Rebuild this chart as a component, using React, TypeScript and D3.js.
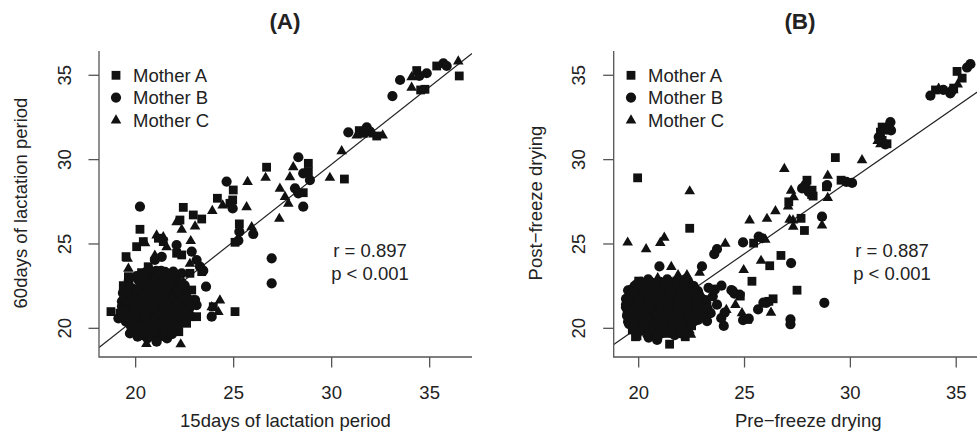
import * as d3 from "d3";

const W = 977;
const H = 432;

// ---- Panel A: 15 days vs 60 days of lactation period ----
const lactMotherA: [number, number][] = [
  [36.51, 34.96], [35.36, 35.55], [34.76, 34.17], [34.54, 34.13], [34.34, 35.28],
  [31.41, 31.72], [31.62, 31.56], [32.3, 31.4], [30.65, 28.85], [28.81, 29.78],
  [28.81, 29.29], [28.55, 28.04], [26.68, 29.55], [24.98, 28.2], [24.95, 27.61],
  [24.17, 27.71], [24.81, 27.41], [23.37, 26.48], [22.94, 26.72], [22.43, 27.17],
  [22.26, 26.42], [25.29, 26.19], [25.07, 25.1], [20.22, 25.87], [20.05, 24.84],
  [20.39, 25.14], [19.51, 24.25], [19.63, 23.06], [19.37, 22.53], [18.74, 20.99],
  [21.16, 25.34], [21.41, 25.14], [22.35, 24.35], [23.37, 23.36], [22.77, 23.26],
  [23.96, 21.28], [25.07, 20.99], [22.6, 21.68], [22.77, 21.48], [22.77, 20.69],
  [22.6, 20.3], [22.09, 24.45], [20.64, 23.65], [22.86, 22.27], [23.11, 20.69],
  [20.3, 23.3], [21.4, 22.8], [20.6, 22.4], [22.1, 22.4], [19.4, 21.8],
  [20.9, 21.9], [22.8, 21.7], [19.8, 21.4], [21.3, 21.4], [19.2, 20.9],
  [20.2, 21.0], [22.2, 20.9], [20.5, 20.5], [22.0, 20.3], [20.4, 19.9],
  [22.2, 19.8], [21.1, 19.5], [20.55, 23.15], [22.0, 23.1], [21.25, 22.65],
  [20.15, 22.15], [21.65, 22.1], [20.55, 21.7], [22.55, 21.55], [20.45, 21.2],
  [21.45, 21.15], [19.45, 20.65], [22.4, 20.6], [20.75, 20.2], [21.75, 20.1],
  [20.85, 19.6],
];
const lactMotherB: [number, number][] = [
  [35.7, 35.71], [35.87, 35.55], [34.85, 35.12], [34.47, 34.96], [33.49, 34.72],
  [33.1, 33.77], [30.85, 31.62], [31.79, 31.92], [31.96, 31.66], [28.3, 30.14],
  [28.55, 29.19], [28.89, 28.79], [28.13, 28.3], [28.3, 28.0], [28.55, 27.21],
  [26.94, 24.15], [26.94, 22.67], [24.64, 28.7], [24.95, 27.11], [25.29, 25.73],
  [26.0, 25.59], [25.24, 25.2], [20.22, 27.21], [19.12, 20.59], [22.09, 24.94],
  [22.86, 24.55], [23.11, 24.05], [23.28, 23.66], [23.45, 23.42], [22.35, 23.26],
  [21.92, 23.36], [23.59, 22.47], [23.88, 20.69], [20.98, 24.05], [21.33, 24.24],
  [23.11, 21.38], [23.03, 21.68], [19.71, 19.7], [21.07, 19.21],
  [21.3, 23.4], [21.7, 23.2], [20.4, 22.9], [21.9, 22.9], [19.6, 22.3],
  [21.1, 22.5], [21.6, 22.3], [22.5, 22.2], [19.9, 21.9], [20.4, 22.0],
  [21.9, 21.8], [22.4, 21.9], [19.3, 21.3], [20.8, 21.5], [21.8, 21.3],
  [22.8, 21.3], [19.7, 20.9], [20.7, 20.9], [21.7, 20.8], [22.6, 20.8],
  [19.5, 20.4], [21.0, 20.4], [21.5, 20.4], [22.4, 20.4], [19.9, 19.9],
  [20.9, 19.8], [21.9, 19.9], [20.1, 19.5], [20.6, 19.4], [21.6, 19.4],
  [20.05, 23.1], [21.05, 23.2], [20.25, 22.65], [20.75, 22.7], [21.75, 22.6],
  [22.25, 22.5], [19.6, 22.1], [20.65, 22.2], [22.15, 22.15], [20.05, 21.65],
  [21.05, 21.65], [21.55, 21.6], [19.45, 21.1], [19.95, 21.15], [20.95, 21.15],
  [21.95, 21.1], [22.45, 21.15], [19.95, 20.65], [20.45, 20.7], [21.45, 20.6],
  [21.95, 20.6], [19.75, 20.15], [20.25, 20.15], [21.25, 20.15], [22.15, 20.1],
  [21.35, 19.7], [21.85, 19.65],
];
// dense core of the cluster, where the marks overlap into one black mass
const lactCore: [number, number][] = [
  [20.55, 23.35], [21.05, 23.4], [21.5, 23.35],
  [20.3, 23.1], [20.8, 23.1], [21.3, 23.1], [21.8, 23.05],
  [19.65, 22.85], [20.15, 22.85], [20.65, 22.85], [21.15, 22.85], [21.65, 22.85], [22.1, 22.8],
  [20.5, 22.6], [21.0, 22.6], [21.5, 22.6], [22.0, 22.6], [22.5, 22.55],
  [19.85, 22.35], [20.35, 22.35], [20.85, 22.35], [21.35, 22.35], [21.85, 22.35], [22.3, 22.35],
  [19.35, 22.1], [19.85, 22.1], [20.4, 22.1], [20.9, 22.1], [21.4, 22.1], [21.9, 22.1], [22.4, 22.1],
  [19.65, 21.85], [20.15, 21.85], [20.65, 21.85], [21.15, 21.85], [21.65, 21.85], [22.15, 21.85], [22.6, 21.85],
  [19.3, 21.6], [19.8, 21.6], [20.3, 21.6], [20.8, 21.6], [21.3, 21.6], [21.8, 21.6], [22.3, 21.6], [22.8, 21.55],
  [19.55, 21.35], [20.05, 21.35], [20.55, 21.35], [21.05, 21.35], [21.55, 21.35], [22.05, 21.35], [22.55, 21.35],
  [19.7, 21.1], [20.2, 21.1], [20.7, 21.1], [21.2, 21.1], [21.7, 21.1], [22.2, 21.1], [22.7, 21.05],
  [19.45, 20.85], [19.95, 20.85], [20.45, 20.85], [20.95, 20.85], [21.45, 20.85], [21.95, 20.85], [22.4, 20.85],
  [19.7, 20.6], [20.2, 20.6], [20.7, 20.6], [21.2, 20.6], [21.7, 20.6], [22.15, 20.55],
  [19.75, 20.35], [20.25, 20.35], [20.75, 20.35], [21.25, 20.35], [21.75, 20.35], [22.2, 20.3],
  [20.0, 20.1], [20.5, 20.1], [21.0, 20.1], [21.5, 20.1], [21.95, 20.05],
  [20.15, 19.85], [20.65, 19.85], [21.15, 19.85], [21.65, 19.85],
  [20.35, 19.6], [21.1, 19.6], [21.4, 19.55],
];
const lactMotherC: [number, number][] = [
  [36.46, 35.85], [34.08, 34.29], [34.08, 34.92], [31.28, 31.46], [32.13, 31.52],
  [32.6, 31.46], [30.51, 30.53], [29.91, 28.95], [28.04, 29.58], [27.87, 28.99],
  [27.36, 28.3], [27.62, 27.81], [27.79, 27.41], [27.33, 26.52], [26.63, 28.95],
  [25.71, 28.7], [25.66, 27.21], [24.44, 27.31], [23.91, 26.98], [23.03, 26.07],
  [22.09, 26.32], [22.35, 25.87], [22.81, 25.2], [25.92, 26.03], [20.48, 25.08],
  [19.59, 24.15], [19.63, 23.56], [21.07, 25.53], [21.41, 25.43], [21.58, 24.84],
  [22.77, 23.85], [24.3, 21.68], [24.22, 20.99], [22.3, 19.08], [20.55, 19.1],
  [20.98, 24.34], [22.43, 22.76], [23.88, 21.28],
  [20.8, 23.5], [20.9, 22.9], [22.3, 22.7], [20.1, 22.4], [21.4, 21.9],
  [20.3, 21.4], [22.3, 21.4], [21.2, 20.9], [20.0, 20.4], [21.4, 19.9],
  [21.55, 23.0], [19.75, 22.6], [21.15, 22.15], [22.6, 22.0], [19.5, 21.6],
  [22.05, 21.65], [20.95, 20.65], [20.35, 19.65],
];

// ---- Panel B: pre- vs post-freeze drying ----
const freezeMotherA: [number, number][] = [
  [35.04, 35.23], [35.28, 34.83], [34.88, 34.24], [34.02, 34.13], [31.5, 31.93],
  [31.42, 31.63], [31.5, 31.14], [31.73, 30.94], [29.29, 30.12], [29.56, 28.78],
  [28.87, 28.39], [27.95, 28.78], [28.19, 28.19], [28.24, 27.84], [27.67, 26.52],
  [27.83, 25.8], [27.09, 27.5], [25.43, 25.05], [22.41, 25.93], [19.95, 28.92],
  [26.19, 23.71], [25.35, 22.79], [26.72, 24.32], [27.48, 22.26], [26.35, 21.75],
  [24.8, 21.91], [25.15, 20.53], [21.46, 19.06], [19.92, 19.55], [28.17, 27.93],
  [26.15, 21.6],
  [20.0, 22.8], [21.8, 22.8], [19.7, 22.3], [20.6, 22.5], [22.4, 22.4],
  [19.95, 21.9], [21.3, 21.9], [23.1, 21.7], [20.3, 21.5], [21.65, 21.3],
  [23.0, 21.4], [19.45, 20.9], [21.25, 20.9], [22.6, 20.8], [19.95, 20.4],
  [20.85, 20.4], [22.2, 20.4], [19.7, 19.9], [20.6, 19.8], [21.5, 19.9],
  [19.85, 19.5], [22.2, 19.5], [20.8, 22.7], [22.15, 22.65], [20.15, 22.15],
  [21.95, 22.1], [19.6, 21.6], [20.95, 21.65], [20.05, 21.15], [21.4, 21.15],
  [22.75, 21.1], [20.6, 20.7], [20.25, 20.15], [21.6, 20.1], [22.5, 20.15],
  [21.3, 19.7],
];
const freezeMotherB: [number, number][] = [
  [35.67, 35.66], [35.51, 35.46], [34.72, 33.93], [34.8, 34.09], [33.78, 33.79],
  [34.39, 34.14], [31.89, 32.22], [31.92, 31.73], [31.65, 30.9], [31.34, 31.34],
  [31.71, 31.78], [30.08, 28.62], [29.81, 28.68], [28.9, 28.49], [28.66, 26.62],
  [28.77, 21.51], [27.87, 28.49], [28.03, 28.09], [27.72, 28.29], [25.67, 25.44],
  [25.83, 25.34], [24.93, 25.09], [23.7, 24.7], [23.57, 24.4], [20.98, 23.67],
  [22.99, 23.67], [23.91, 22.53], [24.38, 22.26], [24.77, 22.0], [24.52, 22.06],
  [24.93, 20.49], [25.2, 20.57], [24.02, 20.14], [23.23, 20.43], [27.2, 23.87],
  [26.03, 21.51], [25.64, 21.12], [27.17, 20.53], [27.17, 20.24], [20.47, 19.45],
  [20.87, 19.31], [19.45, 21.47], [19.53, 20.33], [24.45, 22.2], [24.06, 20.93],
  [25.89, 21.52], [23.5, 21.9], [23.7, 21.4], [23.4, 20.9], [23.6, 22.3],
  [23.3, 22.4], [23.9, 20.6],
  [20.45, 22.9], [21.35, 22.9], [22.2, 22.9], [20.15, 22.4], [21.05, 22.4],
  [21.95, 22.3], [22.8, 22.2], [19.5, 21.8], [20.4, 21.9], [20.85, 22.0],
  [21.75, 21.9], [22.65, 21.9], [19.4, 21.4], [20.75, 21.4], [21.2, 21.4],
  [22.1, 21.4], [22.55, 21.3], [19.9, 20.9], [20.35, 21.0], [21.7, 20.8],
  [22.15, 20.9], [23.05, 20.9], [19.5, 20.4], [20.4, 20.5], [21.3, 20.4],
  [21.75, 20.3], [22.6, 20.4], [20.15, 19.9], [21.05, 19.9], [21.95, 19.8],
  [20.9, 19.5], [21.7, 19.6], [19.9, 22.6], [21.25, 22.65], [21.7, 22.6],
  [22.6, 22.5], [19.7, 22.1], [20.6, 22.2], [21.5, 22.15], [22.4, 22.15],
  [22.85, 22.0], [20.05, 21.65], [20.5, 21.7], [21.4, 21.65], [21.85, 21.6],
  [22.75, 21.6], [23.2, 21.5], [19.6, 21.1], [20.5, 21.2], [20.95, 21.15],
  [21.85, 21.1], [22.3, 21.15], [23.25, 21.2], [19.7, 20.6], [20.15, 20.65],
  [21.05, 20.65], [21.95, 20.6], [22.4, 20.65], [22.85, 20.6], [19.8, 20.1],
  [20.7, 20.2], [21.15, 20.15], [22.05, 20.1], [20.4, 19.65], [22.0, 19.7],
];
const freezeCore: [number, number][] = [
  [20.1, 22.75], [20.55, 22.75], [21.0, 22.75], [21.45, 22.75], [21.9, 22.75], [22.35, 22.75],
  [19.8, 22.5], [20.25, 22.5], [20.7, 22.5], [21.15, 22.5], [21.6, 22.5], [22.05, 22.5], [22.5, 22.5],
  [19.5, 22.25], [19.95, 22.25], [20.4, 22.25], [20.85, 22.25], [21.3, 22.25], [21.75, 22.25], [22.2, 22.25], [22.65, 22.25],
  [19.6, 22.0], [20.05, 22.0], [20.5, 22.0], [20.95, 22.0], [21.4, 22.0], [21.85, 22.0], [22.3, 22.0], [22.75, 22.0],
  [19.4, 21.75], [19.85, 21.75], [20.3, 21.75], [20.75, 21.75], [21.2, 21.75], [21.65, 21.75], [22.1, 21.75], [22.55, 21.75], [23.0, 21.75],
  [19.55, 21.5], [20.0, 21.5], [20.45, 21.5], [20.9, 21.5], [21.35, 21.5], [21.8, 21.5], [22.25, 21.5], [22.7, 21.5], [23.15, 21.45],
  [19.4, 21.25], [19.85, 21.25], [20.3, 21.25], [20.75, 21.25], [21.2, 21.25], [21.65, 21.25], [22.1, 21.25], [22.55, 21.25], [23.0, 21.25],
  [19.6, 21.0], [20.05, 21.0], [20.5, 21.0], [20.95, 21.0], [21.4, 21.0], [21.85, 21.0], [22.3, 21.0], [22.75, 21.0], [23.2, 21.0],
  [19.45, 20.75], [19.9, 20.75], [20.35, 20.75], [20.8, 20.75], [21.25, 20.75], [21.7, 20.75], [22.15, 20.75], [22.6, 20.75], [23.05, 20.75],
  [19.65, 20.5], [20.1, 20.5], [20.55, 20.5], [21.0, 20.5], [21.45, 20.5], [21.9, 20.5], [22.35, 20.5], [22.8, 20.5],
  [19.55, 20.25], [20.0, 20.25], [20.45, 20.25], [20.9, 20.25], [21.35, 20.25], [21.8, 20.25], [22.25, 20.25],
  [19.9, 20.0], [20.35, 20.0], [20.8, 20.0], [21.25, 20.0], [21.7, 20.0], [22.15, 20.0],
  [19.95, 19.75], [20.7, 19.75], [21.15, 19.75], [21.5, 19.75], [22.3, 19.75],
];
const freezeMotherC: [number, number][] = [
  [35.07, 34.48], [34.17, 34.24], [34.86, 34.14], [31.29, 31.14], [31.42, 30.94],
  [31.4, 31.58], [30.55, 30.0], [28.93, 29.08], [28.93, 27.76], [28.66, 26.13],
  [27.29, 26.42], [26.88, 29.47], [27.2, 28.19], [27.32, 27.8], [27.06, 27.25],
  [27.13, 26.46], [26.46, 26.97], [26.06, 26.52], [25.24, 26.42], [25.98, 25.28],
  [24.09, 25.05], [22.41, 28.15], [19.48, 25.11], [20.35, 24.72], [21.02, 25.09],
  [21.21, 25.4], [21.54, 23.67], [21.86, 23.18], [22.28, 23.18], [22.88, 23.32],
  [24.57, 21.41], [24.88, 20.92], [24.14, 21.12], [24.96, 23.48], [25.78, 24.03],
  [26.25, 20.96], [22.47, 19.65], [27.3, 26.05],
  [20.9, 23.0], [21.5, 22.4], [22.2, 21.8], [19.85, 21.4], [20.8, 20.9],
  [22.4, 19.9], [20.35, 22.65], [21.05, 22.15], [22.3, 21.65], [21.5, 20.6],
];

const ticks = [20, 25, 30, 35];
const legendLabels = ["Mother A", "Mother B", "Mother C"];

const FONT = "'Liberation Sans', Arial, Helvetica, sans-serif";
const TEXT = "#222";
const AXIS = "#555";

type Shape = "square" | "circle" | "triangle";
const shapes: Shape[] = ["square", "circle", "triangle"];

function Marker({ shape, x, y }: { shape: Shape; x: number; y: number }) {
  if (shape === "square")
    return <rect x={x - 4.4} y={y - 4.4} width={8.8} height={8.8} fill="#111" />;
  if (shape === "circle") return <circle cx={x} cy={y} r={5.1} fill="#111" />;
  return (
    <path
      d={`M${x},${y - 5.7}L${x + 5.3},${y + 3.5}L${x - 5.3},${y + 3.5}Z`}
      fill="#111"
    />
  );
}

interface PanelProps {
  id: string;
  title: string;
  xLabel: string;
  yLabel: string;
  core: [number, number][];
  series: [number, number][][];
  xDomain: [number, number];
  xRange: [number, number];
  fit: [number, number]; // intercept, slope
  r: string;
  statX: number;
  legendX: number;
  titleX: number;
}

function Panel(p: PanelProps) {
  const x = d3.scaleLinear().domain(p.xDomain).range(p.xRange);
  const y = d3.scaleLinear().domain([18.3, 36.38]).range([357, 52]);
  const [x0, x1] = p.xDomain;
  const left = p.xRange[0];
  const right = Math.min(p.xRange[1], W);
  const line = d3.line<number>()
    .x((d) => x(d))
    .y((d) => y(p.fit[0] + p.fit[1] * d));
  const clipId = `clip-${p.id}`;
  const xMid = (p.xRange[0] + p.xRange[1]) / 2;

  return (
    <g>
      <defs>
        <clipPath id={clipId}>
          <rect x={left} y={52} width={right - left} height={305} />
        </clipPath>
      </defs>
      <text x={p.titleX} y={28.5} textAnchor="middle" fontWeight="bold" fontSize={22.5} fill={TEXT}>
        {p.title}
      </text>

      <g clipPath={`url(#${clipId})`}>
        <path d={line([x0, x1]) || ""} stroke="#222" strokeWidth={1.2} fill="none" />
        {/* overlapping Mother B marks in the middle of the cluster go underneath */}
        {p.core.map((d, i) => (
          <Marker key={`core-${i}`} shape="circle" x={x(d[0])} y={y(d[1])} />
        ))}
        {p.series.map((pts, si) =>
          pts.map((d, i) => (
            <Marker key={`${si}-${i}`} shape={shapes[si]} x={x(d[0])} y={y(d[1])} />
          ))
        )}
      </g>

      {/* L-shaped box */}
      <path
        d={`M${left},51V357H${right}`}
        stroke={AXIS}
        strokeWidth={1.3}
        fill="none"
      />
      {ticks.map((t) => (
        <g key={`x${t}`}>
          <line x1={x(t)} x2={x(t)} y1={357} y2={367.5} stroke={AXIS} strokeWidth={1.3} />
          <text x={x(t)} y={398.6} textAnchor="middle" fill={TEXT}>
            {t}
          </text>
        </g>
      ))}
      {ticks.map((t) => (
        <g key={`y${t}`}>
          <line x1={left - 10.5} x2={left} y1={y(t)} y2={y(t)} stroke={AXIS} strokeWidth={1.3} />
          <text
            transform={`translate(${left - 35},${y(t)}) rotate(-90)`}
            dy="0.36em"
            textAnchor="middle"
            fill={TEXT}
          >
            {t}
          </text>
        </g>
      ))}
      <text x={xMid} y={427} textAnchor="middle" fill={TEXT}>
        {p.xLabel}
      </text>
      <text
        transform={`translate(${left - 72},203) rotate(-90)`}
        textAnchor="middle"
        fill={TEXT}
      >
        {p.yLabel}
      </text>

      {legendLabels.map((l, i) => (
        <g key={l}>
          <Marker shape={shapes[i]} x={p.legendX} y={75.3 + i * 22.3} />
          <text x={p.legendX + 17} y={81.9 + i * 22.3} fill={TEXT}>
            {l}
          </text>
        </g>
      ))}

      <text x={p.statX} y={256.7} textAnchor="middle" fill={TEXT}>
        {p.r}
      </text>
      <text x={p.statX} y={280} textAnchor="middle" fill={TEXT}>
        p &lt; 0.001
      </text>
    </g>
  );
}

export default function App() {
  return (
    <svg
      width={W}
      height={H}
      style={{ position: "absolute", left: 0, top: 0, background: "#fff" }}
      fontFamily={FONT}
      fontSize={18.5}
    >
      <rect width={W} height={H} fill="#fff" />
      <Panel
        id="a"
        title="(A)"
        xLabel="15days of lactation period"
        yLabel="60days of lactation period"
        core={lactCore}
        series={[lactMotherA, lactMotherB, lactMotherC]}
        xDomain={[18.13, 37.16]}
        xRange={[99, 472]}
        fit={[2.25, 0.916]}
        r="r = 0.897"
        statX={370}
        legendX={116}
        titleX={285}
      />
      <Panel
        id="b"
        title="(B)"
        xLabel="Pre−freeze drying"
        yLabel="Post−freeze drying"
        core={freezeCore}
        series={[freezeMotherA, freezeMotherB, freezeMotherC]}
        xDomain={[18.82, 37.2]}
        xRange={[613.7, 1002.8]}
        fit={[2.65, 0.871]}
        r="r = 0.887"
        statX={892}
        legendX={631}
        titleX={800}
      />
    </svg>
  );
}
